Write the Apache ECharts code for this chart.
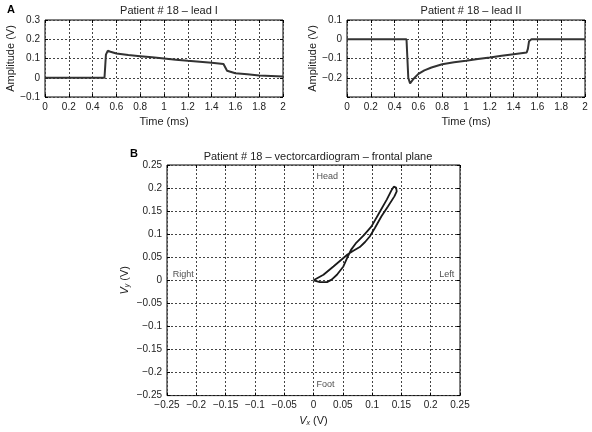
<!DOCTYPE html>
<html>
<head>
<meta charset="utf-8">
<script src="https://cdn.jsdelivr.net/npm/echarts@6/dist/echarts.min.js"></script>
<style>
  html, body { margin: 0; padding: 0; background: #fff; }
  #main { width: 592px; height: 432px; }
</style>
</head>
<body>
<div id="main"></div>
<script>
// lead I
var timeI = [0, 0.2, 0.4, 0.5, 0.504, 0.512, 0.527, 0.55, 0.6, 0.7, 0.8, 0.9, 1.0, 1.1, 1.2, 1.3, 1.4, 1.5, 1.515, 1.53, 1.54, 1.6, 1.7, 1.8, 1.9, 2.0]
var leadI = [0, 0, 0, 0, 0.002, 0.12, 0.140, 0.135, 0.126, 0.118, 0.112, 0.106, 0.100, 0.094, 0.088, 0.083, 0.078, 0.071, 0.066, 0.036, 0.031, 0.023, 0.018, 0.012, 0.009, 0.006]
// lead II
var timeII = [0, 0.2, 0.4, 0.5, 0.51, 0.515, 0.53, 0.56, 0.6, 0.65, 0.71, 0.8, 0.9, 1.0, 1.1, 1.2, 1.3, 1.4, 1.51, 1.52, 1.53, 1.55, 1.6, 1.8, 2.0]
var leadII = [0, 0, 0, 0, -0.01, -0.2, -0.23, -0.205, -0.18, -0.162, -0.147, -0.13, -0.12, -0.112, -0.103, -0.095, -0.086, -0.078, -0.069, -0.05, -0.01, 0, 0, 0, 0]
// vectorcardiogram loop
var vx = [0, 0.017, 0.034, 0.048, 0.058, 0.068, 0.079, 0.088, 0.096, 0.105, 0.116, 0.127, 0.138, 0.142, 0.141, 0.137,
  0.133, 0.125, 0.112, 0.099, 0.086, 0.072, 0.064, 0.058, 0.051, 0.040, 0.031, 0.023, 0.011, 0]
var vy = [0, 0.012, 0.030, 0.045, 0.056, 0.064, 0.072, 0.083, 0.095, 0.114, 0.139, 0.160, 0.182, 0.193, 0.201, 0.203,
  0.195, 0.175, 0.146, 0.117, 0.098, 0.080, 0.066, 0.050, 0.030, 0.012, 0.0015, -0.004, -0.004, 0]
var notes = [
  { text: 'Head', x: 0.005, y: 0.225, align: 'left' },
  { text: 'Foot', x: 0.005, y: -0.225, align: 'left' },
  { text: 'Right', x: -0.24, y: 0.013, align: 'left' },
  { text: 'Left', x: 0.24, y: 0.013, align: 'right' }
]

var chart = echarts.init(document.getElementById('main'))
var txt = '#222'
var font = 'Liberation Sans, Arial, sans-serif'

function fmt(v) {
  if (Math.abs(v) < 1e-9) return '0'
  return String(+v.toFixed(2)).replace('-', '\u2212')
}
function pairs(a, b) {
  return a.map(function(v, i) { return [v, b[i]] })
}

var grids = [
  { left: 45, top: 20, width: 238, height: 77 },
  { left: 347, top: 20, width: 238, height: 77 },
  { left: 167, top: 165, width: 293, height: 232 }
]
grids.forEach(function(g) {
  g.show = true
  g.borderColor = '#000'
  g.borderWidth = 1
  g.backgroundColor = 'transparent'
})

function splitStyle() {
  return { show: true, lineStyle: { color: '#444', width: 1, type: [2, 2] } }
}
function mainAxis(gi, min, max, interval, name, extra) {
  var ax = {
    type: 'value', gridIndex: gi, min: min, max: max, interval: interval,
    name: name, nameLocation: 'middle',
    nameTextStyle: { color: txt, fontSize: 11, fontFamily: font },
    axisLine: { show: false, onZero: false },
    axisTick: { show: true, inside: true, length: 3, lineStyle: { color: '#000' } },
    axisLabel: { color: txt, fontSize: 10, fontFamily: font, formatter: fmt, margin: 5 },
    splitLine: splitStyle()
  }
  return Object.assign(ax, extra || {})
}
function mirrorAxis(gi, min, max, interval, pos) {
  return {
    type: 'value', gridIndex: gi, min: min, max: max, interval: interval, position: pos,
    axisLine: { show: false, onZero: false },
    axisTick: { show: true, inside: true, length: 3, lineStyle: { color: '#000' } },
    axisLabel: { show: false },
    splitLine: { show: false }
  }
}

var subRich = {
  i: { fontStyle: 'italic', fontSize: 11, color: txt, fontFamily: font },
  s: { fontStyle: 'italic', fontSize: 7, color: txt, fontFamily: font, verticalAlign: 'bottom', padding: [5, 0, 0, 0] }
}

var xAxis = [
  mainAxis(0, 0, 2, 0.2, 'Time (ms)', { nameGap: 19 }),
  mainAxis(1, 0, 2, 0.2, 'Time (ms)', { nameGap: 19 }),
  mainAxis(2, -0.25, 0.25, 0.05, '{i|V}{s|x} (V)', {
    nameGap: 19,
    nameTextStyle: { color: txt, fontSize: 11, fontFamily: font, rich: subRich }
  }),
  mirrorAxis(0, 0, 2, 0.2, 'top'),
  mirrorAxis(1, 0, 2, 0.2, 'top'),
  mirrorAxis(2, -0.25, 0.25, 0.05, 'top')
]
var yAxis = [
  mainAxis(0, -0.1, 0.3, 0.1, 'Amplitude (V)', { nameGap: 27 }),
  mainAxis(1, -0.3, 0.1, 0.1, 'Amplitude (V)', {
    nameGap: 27,
    axisLabel: {
      color: txt, fontSize: 10, fontFamily: font, margin: 5,
      formatter: function(v) { return Math.abs(v + 0.3) < 1e-6 ? '' : fmt(v) }
    }
  }),
  mainAxis(2, -0.25, 0.25, 0.05, '{i|V}{s|y} (V)', {
    nameGap: 36,
    nameTextStyle: { color: txt, fontSize: 11, fontFamily: font, rich: subRich }
  }),
  mirrorAxis(0, -0.1, 0.3, 0.1, 'right'),
  mirrorAxis(1, -0.3, 0.1, 0.1, 'right'),
  mirrorAxis(2, -0.25, 0.25, 0.05, 'right')
]

var titleStyle = { color: txt, fontSize: 11, fontWeight: 'normal', fontFamily: font }

chart.setOption({
  animation: false,
  backgroundColor: '#fff',
  title: [
    { text: 'Patient # 18 \u2013 lead I', left: 164, top: 0, textAlign: 'center', textStyle: titleStyle },
    { text: 'Patient # 18 \u2013 lead II', left: 466, top: 0, textAlign: 'center', textStyle: titleStyle },
    { text: 'Patient # 18 \u2013 vectorcardiogram \u2013 frontal plane', left: 313, top: 146, textAlign: 'center', textStyle: titleStyle }
  ],
  graphic: [
    { type: 'text', left: 7, top: 4, style: { text: 'A', fill: '#000', font: 'bold 11px ' + font } },
    { type: 'text', left: 130, top: 148, style: { text: 'B', fill: '#000', font: 'bold 11px ' + font } }
  ],
  grid: grids,
  xAxis: xAxis,
  yAxis: yAxis,
  series: [
    {
      type: 'line', xAxisIndex: 0, yAxisIndex: 0, data: pairs(timeI, leadI),
      showSymbol: false, lineStyle: { color: '#333', width: 2 }
    },
    {
      type: 'line', xAxisIndex: 1, yAxisIndex: 1, data: pairs(timeII, leadII),
      showSymbol: false, lineStyle: { color: '#333', width: 2 }
    },
    {
      type: 'line', xAxisIndex: 2, yAxisIndex: 2, data: pairs(vx, vy),
      showSymbol: false, lineStyle: { color: '#1a1a1a', width: 1.8 }
    },
    {
      type: 'scatter', xAxisIndex: 2, yAxisIndex: 2, symbolSize: 0,
      data: notes.map(function(n) {
        return {
          value: [n.x, n.y],
          label: {
            show: true, formatter: n.text, position: 'inside', align: n.align,
            color: txt, fontSize: 9, fontFamily: font
          }
        }
      })
    }
  ]
})
</script>
</body>
</html>
